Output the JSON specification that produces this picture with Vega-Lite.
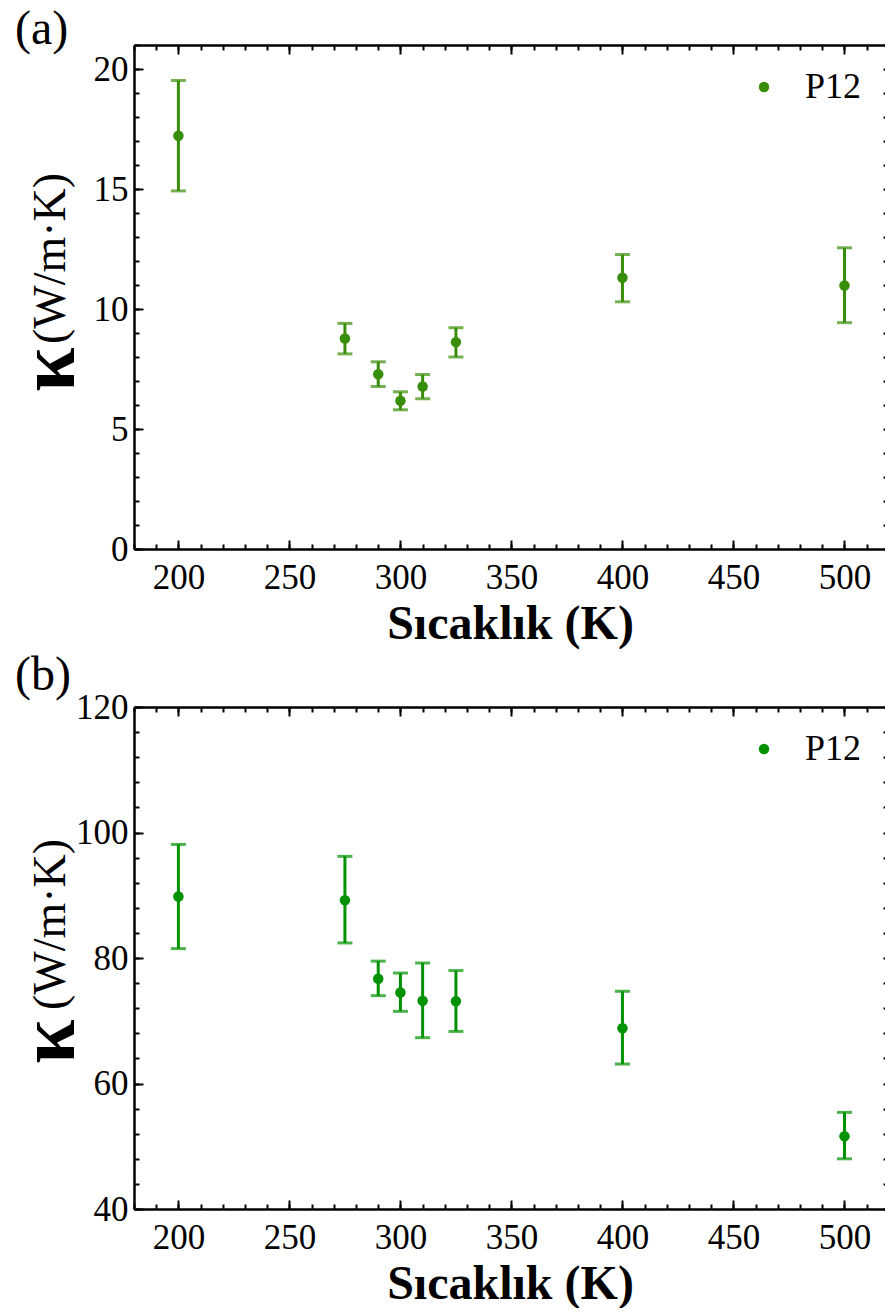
{
  "$schema": "https://vega.github.io/schema/vega-lite/v6.json",
  "background": "white",
  "padding": {"left": 9, "top": 6, "right": 0, "bottom": 0},
  "spacing": 4,
  "datasets": {
    "a": [
      {"T": 200, "k": 17.22, "lo": 14.92, "hi": 19.52, "series": "P12"},
      {"T": 275, "k": 8.77, "lo": 8.13, "hi": 9.4, "series": "P12"},
      {"T": 290, "k": 7.28, "lo": 6.77, "hi": 7.8, "series": "P12"},
      {"T": 300, "k": 6.18, "lo": 5.8, "hi": 6.55, "series": "P12"},
      {"T": 310, "k": 6.77, "lo": 6.26, "hi": 7.27, "series": "P12"},
      {"T": 325, "k": 8.62, "lo": 8.0, "hi": 9.22, "series": "P12"},
      {"T": 400, "k": 11.3, "lo": 10.3, "hi": 12.27, "series": "P12"},
      {"T": 500, "k": 10.98, "lo": 9.43, "hi": 12.55, "series": "P12"}
    ],
    "b": [
      {"T": 200, "k": 89.8, "lo": 81.5, "hi": 98.1, "series": "P12"},
      {"T": 275, "k": 89.2, "lo": 82.4, "hi": 96.2, "series": "P12"},
      {"T": 290, "k": 76.7, "lo": 74.0, "hi": 79.5, "series": "P12"},
      {"T": 300, "k": 74.5, "lo": 71.5, "hi": 77.6, "series": "P12"},
      {"T": 310, "k": 73.2, "lo": 67.3, "hi": 79.2, "series": "P12"},
      {"T": 325, "k": 73.1, "lo": 68.3, "hi": 78.0, "series": "P12"},
      {"T": 400, "k": 68.8, "lo": 63.1, "hi": 74.7, "series": "P12"},
      {"T": 500, "k": 51.6, "lo": 48.0, "hi": 55.4, "series": "P12"}
    ]
  },
  "vconcat": [
    {
      "width": 752,
      "height": 504,
      "data": {"name": "a"},
      "title": {"text": "(a)", "anchor": "start", "frame": "bounds", "offset": -10, "dx": 6, "fontSize": 48, "font": "Liberation Serif", "fontWeight": "normal", "color": "black"},
      "layer": [
        {
          "mark": {"type": "rule", "color": "#398e09", "strokeWidth": 3},
          "encoding": {
            "x": {"field": "T", "type": "quantitative", "scale": {"domain": [180, 518.7], "nice": false, "zero": false},
              "axis": {"orient": "bottom", "values": [200, 250, 300, 350, 400, 450, 500], "ticks": false, "labelFontSize": 35, "labelPadding": 11, "labelFlush": false, "labelOverlap": false, "title": "Sıcaklık (K)", "titleFontSize": 48, "titleFontWeight": "bold", "titlePadding": 5, "domainWidth": 2.5}},
            "y": {"field": "lo", "type": "quantitative", "scale": {"domain": [0, 21], "nice": false, "zero": false},
              "axis": {"orient": "left", "values": [0, 5, 10, 15, 20], "ticks": false, "labelFontSize": 35, "labelPadding": 6, "labelFlush": false, "labelOverlap": false, "title": "(W/m·K)", "titleFontSize": 46, "titleFontWeight": "normal", "titleAngle": -90, "titleBaseline": "alphabetic", "titleAlign": "center", "titleX": -70, "titleY": 213, "domainWidth": 2.5}},
            "y2": {"field": "hi"}
          }
        },
        {
          "mark": {"type": "tick", "orient": "horizontal", "color": "#398e09", "size": 15, "thickness": 3},
          "encoding": {
            "x": {"field": "T", "type": "quantitative", "scale": {"domain": [180, 518.7], "nice": false, "zero": false},
              "axis": {"orient": "bottom", "values": [200, 250, 300, 350, 400, 450, 500], "labels": false, "domain": false, "tickSize": -9, "tickWidth": 2, "title": null}},
            "y": {"field": "hi", "type": "quantitative", "scale": {"domain": [0, 21], "nice": false, "zero": false},
              "axis": {"orient": "left", "values": [0, 5, 10, 15, 20], "labels": false, "domain": false, "tickSize": -9, "tickWidth": 2, "title": null}}
          }
        },
        {
          "mark": {"type": "tick", "orient": "horizontal", "color": "#398e09", "size": 15, "thickness": 3},
          "encoding": {
            "x": {"field": "T", "type": "quantitative", "scale": {"domain": [180, 518.7], "nice": false, "zero": false},
              "axis": {"orient": "bottom", "values": [180, 190, 200, 210, 220, 230, 240, 250, 260, 270, 280, 290, 300, 310, 320, 330, 340, 350, 360, 370, 380, 390, 400, 410, 420, 430, 440, 450, 460, 470, 480, 490, 500, 510], "labels": false, "domain": false, "tickSize": -5, "tickWidth": 2, "title": null}},
            "y": {"field": "lo", "type": "quantitative", "scale": {"domain": [0, 21], "nice": false, "zero": false},
              "axis": {"orient": "left", "values": [0, 1, 2, 3, 4, 5, 6, 7, 8, 9, 10, 11, 12, 13, 14, 15, 16, 17, 18, 19, 20, 21], "labels": false, "domain": false, "tickSize": -5, "tickWidth": 2, "title": "κ", "titleFontSize": 80, "titleFontWeight": "bold", "titleAngle": -90, "titleBaseline": "alphabetic", "titleAlign": "center", "titleX": -61, "titleY": 324}}
          }
        },
        {
          "mark": {"type": "point", "filled": true, "opacity": 1, "size": 110},
          "encoding": {
            "x": {"field": "T", "type": "quantitative", "scale": {"domain": [180, 518.7], "nice": false, "zero": false},
              "axis": {"orient": "top", "values": [200, 250, 300, 350, 400, 450, 500], "labels": false, "tickSize": -9, "tickWidth": 2, "domainWidth": 2.5, "title": null}},
            "y": {"field": "k", "type": "quantitative", "scale": {"domain": [0, 21], "nice": false, "zero": false},
              "axis": {"orient": "right", "values": [0, 1, 2, 3, 4, 5, 6, 7, 8, 9, 10, 11, 12, 13, 14, 15, 16, 17, 18, 19, 20, 21], "labels": false, "domain": false, "tickSize": -3, "tickWidth": 2, "title": null}},
            "color": {"field": "series", "type": "nominal", "scale": {"range": ["#398e09"]},
              "legend": {"title": null, "orient": "top-right", "offset": 24, "padding": 0, "labelFont": "Liberation Serif", "labelFontSize": 36, "labelColor": "black", "labelOffset": 23, "symbolType": "circle", "symbolSize": 110, "symbolStrokeWidth": 0}}
          }
        },
        {
          "mark": {"type": "point", "opacity": 0},
          "encoding": {
            "x": {"field": "T", "type": "quantitative", "scale": {"domain": [180, 518.7], "nice": false, "zero": false},
              "axis": {"orient": "top", "values": [180, 190, 200, 210, 220, 230, 240, 250, 260, 270, 280, 290, 300, 310, 320, 330, 340, 350, 360, 370, 380, 390, 400, 410, 420, 430, 440, 450, 460, 470, 480, 490, 500, 510], "labels": false, "domain": false, "tickSize": -5, "tickWidth": 2, "title": null}},
            "y": {"field": "k", "type": "quantitative", "scale": {"domain": [0, 21], "nice": false, "zero": false}, "axis": null}
          }
        }
      ],
      "resolve": {"axis": {"x": "independent", "y": "independent"}}
    },
    {
      "width": 752,
      "height": 502,
      "data": {"name": "b"},
      "title": {"text": "(b)", "anchor": "start", "frame": "bounds", "offset": -10, "dx": 6, "fontSize": 48, "font": "Liberation Serif", "fontWeight": "normal", "color": "black"},
      "layer": [
        {
          "mark": {"type": "rule", "color": "#009200", "strokeWidth": 3},
          "encoding": {
            "x": {"field": "T", "type": "quantitative", "scale": {"domain": [180, 518.7], "nice": false, "zero": false},
              "axis": {"orient": "bottom", "values": [200, 250, 300, 350, 400, 450, 500], "ticks": false, "labelFontSize": 35, "labelPadding": 11, "labelFlush": false, "labelOverlap": false, "title": "Sıcaklık (K)", "titleFontSize": 48, "titleFontWeight": "bold", "titlePadding": 5, "domainWidth": 2.5}},
            "y": {"field": "lo", "type": "quantitative", "scale": {"domain": [40, 120], "nice": false, "zero": false},
              "axis": {"orient": "left", "values": [40, 60, 80, 100, 120], "ticks": false, "labelFontSize": 35, "labelPadding": 6, "labelFlush": false, "labelOverlap": false, "title": "(W/m·K)", "titleFontSize": 46, "titleFontWeight": "normal", "titleAngle": -90, "titleBaseline": "alphabetic", "titleAlign": "center", "titleX": -70, "titleY": 217, "domainWidth": 2.5}},
            "y2": {"field": "hi"}
          }
        },
        {
          "mark": {"type": "tick", "orient": "horizontal", "color": "#009200", "size": 15, "thickness": 3},
          "encoding": {
            "x": {"field": "T", "type": "quantitative", "scale": {"domain": [180, 518.7], "nice": false, "zero": false},
              "axis": {"orient": "bottom", "values": [200, 250, 300, 350, 400, 450, 500], "labels": false, "domain": false, "tickSize": -9, "tickWidth": 2, "title": null}},
            "y": {"field": "hi", "type": "quantitative", "scale": {"domain": [40, 120], "nice": false, "zero": false},
              "axis": {"orient": "left", "values": [40, 60, 80, 100, 120], "labels": false, "domain": false, "tickSize": -9, "tickWidth": 2, "title": null}}
          }
        },
        {
          "mark": {"type": "tick", "orient": "horizontal", "color": "#009200", "size": 15, "thickness": 3},
          "encoding": {
            "x": {"field": "T", "type": "quantitative", "scale": {"domain": [180, 518.7], "nice": false, "zero": false},
              "axis": {"orient": "bottom", "values": [180, 190, 200, 210, 220, 230, 240, 250, 260, 270, 280, 290, 300, 310, 320, 330, 340, 350, 360, 370, 380, 390, 400, 410, 420, 430, 440, 450, 460, 470, 480, 490, 500, 510], "labels": false, "domain": false, "tickSize": -5, "tickWidth": 2, "title": null}},
            "y": {"field": "lo", "type": "quantitative", "scale": {"domain": [40, 120], "nice": false, "zero": false},
              "axis": {"orient": "left", "values": [40, 44, 48, 52, 56, 60, 64, 68, 72, 76, 80, 84, 88, 92, 96, 100, 104, 108, 112, 116, 120], "labels": false, "domain": false, "tickSize": -5, "tickWidth": 2, "title": "κ", "titleFontSize": 80, "titleFontWeight": "bold", "titleAngle": -90, "titleBaseline": "alphabetic", "titleAlign": "center", "titleX": -61, "titleY": 334}}
          }
        },
        {
          "mark": {"type": "point", "filled": true, "opacity": 1, "size": 110},
          "encoding": {
            "x": {"field": "T", "type": "quantitative", "scale": {"domain": [180, 518.7], "nice": false, "zero": false},
              "axis": {"orient": "top", "values": [200, 250, 300, 350, 400, 450, 500], "labels": false, "tickSize": -9, "tickWidth": 2, "domainWidth": 2.5, "title": null}},
            "y": {"field": "k", "type": "quantitative", "scale": {"domain": [40, 120], "nice": false, "zero": false},
              "axis": {"orient": "right", "values": [40, 44, 48, 52, 56, 60, 64, 68, 72, 76, 80, 84, 88, 92, 96, 100, 104, 108, 112, 116, 120], "labels": false, "domain": false, "tickSize": -3, "tickWidth": 2, "title": null}},
            "color": {"field": "series", "type": "nominal", "scale": {"range": ["#009200"]},
              "legend": {"title": null, "orient": "top-right", "offset": 24, "padding": 0, "labelFont": "Liberation Serif", "labelFontSize": 36, "labelColor": "black", "labelOffset": 23, "symbolType": "circle", "symbolSize": 110, "symbolStrokeWidth": 0}}
          }
        },
        {
          "mark": {"type": "point", "opacity": 0},
          "encoding": {
            "x": {"field": "T", "type": "quantitative", "scale": {"domain": [180, 518.7], "nice": false, "zero": false},
              "axis": {"orient": "top", "values": [180, 190, 200, 210, 220, 230, 240, 250, 260, 270, 280, 290, 300, 310, 320, 330, 340, 350, 360, 370, 380, 390, 400, 410, 420, 430, 440, 450, 460, 470, 480, 490, 500, 510], "labels": false, "domain": false, "tickSize": -5, "tickWidth": 2, "title": null}},
            "y": {"field": "k", "type": "quantitative", "scale": {"domain": [40, 120], "nice": false, "zero": false}, "axis": null}
          }
        }
      ],
      "resolve": {"axis": {"x": "independent", "y": "independent"}}
    }
  ],
  "resolve": {"scale": {"y": "independent", "color": "independent"}, "legend": {"color": "independent"}},
  "config": {
    "view": {"stroke": null},
    "axis": {"labelFont": "Liberation Serif", "titleFont": "Liberation Serif", "labelColor": "black", "titleColor": "black", "tickColor": "black", "domainColor": "black", "grid": false}
  }
}
